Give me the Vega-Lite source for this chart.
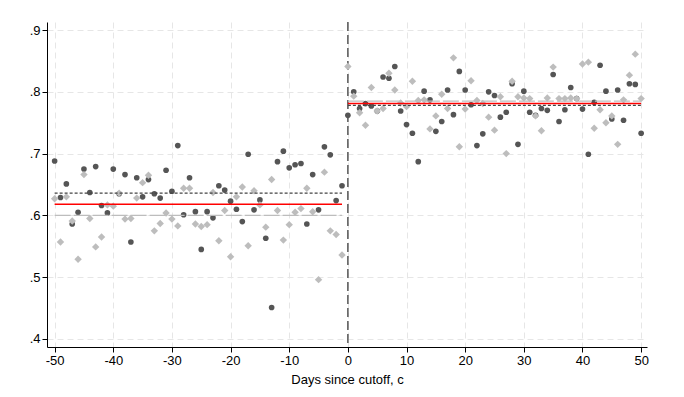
{
  "$schema": "https://vega.github.io/schema/vega-lite/v6.json",
  "autosize": {"type": "none"},
  "padding": {"left": 47, "top": 22, "right": 37, "bottom": 50},
  "width": 600,
  "height": 325,
  "background": "white",
  "config": {
    "view": {"stroke": null},
    "font": "Liberation Sans",
    "axis": {
      "labelFont": "Liberation Sans",
      "titleFont": "Liberation Sans",
      "labelFontSize": 13,
      "titleFontSize": 13,
      "labelColor": "#000000",
      "titleColor": "#000000",
      "domainColor": "#000000",
      "tickColor": "#000000",
      "tickSize": 5,
      "gridColor": "#e6e6e6",
      "gridDash": [6, 4],
      "gridWidth": 1,
      "titleFontWeight": "normal"
    }
  },
  "datasets": {
    "pts": [
      {"day": -50, "series": "A", "value": 0.688}, {"day": -49, "series": "A", "value": 0.629}, {"day": -48, "series": "A", "value": 0.651}, {"day": -47, "series": "A", "value": 0.586}, {"day": -46, "series": "A", "value": 0.605}, {"day": -45, "series": "A", "value": 0.675}, {"day": -44, "series": "A", "value": 0.637}, {"day": -43, "series": "A", "value": 0.679}, {"day": -42, "series": "A", "value": 0.616}, {"day": -41, "series": "A", "value": 0.604},
      {"day": -40, "series": "A", "value": 0.675}, {"day": -39, "series": "A", "value": 0.635}, {"day": -38, "series": "A", "value": 0.666}, {"day": -37, "series": "A", "value": 0.557}, {"day": -36, "series": "A", "value": 0.661}, {"day": -35, "series": "A", "value": 0.630}, {"day": -34, "series": "A", "value": 0.658}, {"day": -33, "series": "A", "value": 0.635}, {"day": -32, "series": "A", "value": 0.628}, {"day": -31, "series": "A", "value": 0.673},
      {"day": -30, "series": "A", "value": 0.639}, {"day": -29, "series": "A", "value": 0.713}, {"day": -28, "series": "A", "value": 0.601}, {"day": -27, "series": "A", "value": 0.661}, {"day": -26, "series": "A", "value": 0.606}, {"day": -25, "series": "A", "value": 0.545}, {"day": -24, "series": "A", "value": 0.606}, {"day": -23, "series": "A", "value": 0.596}, {"day": -22, "series": "A", "value": 0.648}, {"day": -21, "series": "A", "value": 0.641},
      {"day": -20, "series": "A", "value": 0.623}, {"day": -19, "series": "A", "value": 0.610}, {"day": -18, "series": "A", "value": 0.590}, {"day": -17, "series": "A", "value": 0.699}, {"day": -16, "series": "A", "value": 0.609}, {"day": -15, "series": "A", "value": 0.625}, {"day": -14, "series": "A", "value": 0.563}, {"day": -13, "series": "A", "value": 0.451}, {"day": -12, "series": "A", "value": 0.687}, {"day": -11, "series": "A", "value": 0.704},
      {"day": -10, "series": "A", "value": 0.677}, {"day": -9, "series": "A", "value": 0.682}, {"day": -8, "series": "A", "value": 0.684}, {"day": -7, "series": "A", "value": 0.586}, {"day": -6, "series": "A", "value": 0.666}, {"day": -5, "series": "A", "value": 0.609}, {"day": -4, "series": "A", "value": 0.711}, {"day": -3, "series": "A", "value": 0.698}, {"day": -2, "series": "A", "value": 0.624}, {"day": -1, "series": "A", "value": 0.648},
      {"day": 0, "series": "A", "value": 0.762}, {"day": 1, "series": "A", "value": 0.800}, {"day": 2, "series": "A", "value": 0.773}, {"day": 3, "series": "A", "value": 0.781}, {"day": 4, "series": "A", "value": 0.777}, {"day": 5, "series": "A", "value": 0.769}, {"day": 6, "series": "A", "value": 0.824}, {"day": 7, "series": "A", "value": 0.822}, {"day": 8, "series": "A", "value": 0.841}, {"day": 9, "series": "A", "value": 0.769},
      {"day": 10, "series": "A", "value": 0.747}, {"day": 11, "series": "A", "value": 0.733}, {"day": 12, "series": "A", "value": 0.687}, {"day": 13, "series": "A", "value": 0.801}, {"day": 14, "series": "A", "value": 0.787}, {"day": 15, "series": "A", "value": 0.736}, {"day": 16, "series": "A", "value": 0.752}, {"day": 17, "series": "A", "value": 0.803}, {"day": 18, "series": "A", "value": 0.763}, {"day": 19, "series": "A", "value": 0.833},
      {"day": 20, "series": "A", "value": 0.803}, {"day": 21, "series": "A", "value": 0.779}, {"day": 22, "series": "A", "value": 0.713}, {"day": 23, "series": "A", "value": 0.732}, {"day": 24, "series": "A", "value": 0.800}, {"day": 25, "series": "A", "value": 0.794}, {"day": 26, "series": "A", "value": 0.759}, {"day": 27, "series": "A", "value": 0.767}, {"day": 28, "series": "A", "value": 0.813}, {"day": 29, "series": "A", "value": 0.715},
      {"day": 30, "series": "A", "value": 0.801}, {"day": 31, "series": "A", "value": 0.767}, {"day": 32, "series": "A", "value": 0.762}, {"day": 33, "series": "A", "value": 0.773}, {"day": 34, "series": "A", "value": 0.770}, {"day": 35, "series": "A", "value": 0.828}, {"day": 36, "series": "A", "value": 0.752}, {"day": 37, "series": "A", "value": 0.771}, {"day": 38, "series": "A", "value": 0.807}, {"day": 39, "series": "A", "value": 0.789},
      {"day": 40, "series": "A", "value": 0.772}, {"day": 41, "series": "A", "value": 0.699}, {"day": 42, "series": "A", "value": 0.783}, {"day": 43, "series": "A", "value": 0.843}, {"day": 44, "series": "A", "value": 0.801}, {"day": 45, "series": "A", "value": 0.756}, {"day": 46, "series": "A", "value": 0.803}, {"day": 47, "series": "A", "value": 0.754}, {"day": 48, "series": "A", "value": 0.813}, {"day": 49, "series": "A", "value": 0.812}, {"day": 50, "series": "A", "value": 0.733},
      {"day": -50, "series": "B", "value": 0.627}, {"day": -49, "series": "B", "value": 0.557}, {"day": -48, "series": "B", "value": 0.630}, {"day": -47, "series": "B", "value": 0.591}, {"day": -46, "series": "B", "value": 0.529}, {"day": -45, "series": "B", "value": 0.666}, {"day": -44, "series": "B", "value": 0.595}, {"day": -43, "series": "B", "value": 0.549}, {"day": -42, "series": "B", "value": 0.565}, {"day": -41, "series": "B", "value": 0.617},
      {"day": -40, "series": "B", "value": 0.615}, {"day": -39, "series": "B", "value": 0.636}, {"day": -38, "series": "B", "value": 0.594}, {"day": -37, "series": "B", "value": 0.595}, {"day": -36, "series": "B", "value": 0.628}, {"day": -35, "series": "B", "value": 0.653}, {"day": -34, "series": "B", "value": 0.665}, {"day": -33, "series": "B", "value": 0.575}, {"day": -32, "series": "B", "value": 0.587}, {"day": -31, "series": "B", "value": 0.604},
      {"day": -30, "series": "B", "value": 0.594}, {"day": -29, "series": "B", "value": 0.583}, {"day": -28, "series": "B", "value": 0.644}, {"day": -27, "series": "B", "value": 0.644}, {"day": -26, "series": "B", "value": 0.586}, {"day": -25, "series": "B", "value": 0.582}, {"day": -24, "series": "B", "value": 0.585}, {"day": -23, "series": "B", "value": 0.637}, {"day": -22, "series": "B", "value": 0.559}, {"day": -21, "series": "B", "value": 0.608},
      {"day": -20, "series": "B", "value": 0.533}, {"day": -19, "series": "B", "value": 0.630}, {"day": -18, "series": "B", "value": 0.646}, {"day": -17, "series": "B", "value": 0.551}, {"day": -16, "series": "B", "value": 0.640}, {"day": -15, "series": "B", "value": 0.617}, {"day": -14, "series": "B", "value": 0.581}, {"day": -13, "series": "B", "value": 0.658}, {"day": -12, "series": "B", "value": 0.608}, {"day": -11, "series": "B", "value": 0.560},
      {"day": -10, "series": "B", "value": 0.585}, {"day": -9, "series": "B", "value": 0.605}, {"day": -8, "series": "B", "value": 0.611}, {"day": -7, "series": "B", "value": 0.644}, {"day": -6, "series": "B", "value": 0.606}, {"day": -5, "series": "B", "value": 0.496}, {"day": -4, "series": "B", "value": 0.670}, {"day": -3, "series": "B", "value": 0.575}, {"day": -2, "series": "B", "value": 0.569}, {"day": -1, "series": "B", "value": 0.536},
      {"day": 0, "series": "B", "value": 0.841}, {"day": 1, "series": "B", "value": 0.793}, {"day": 2, "series": "B", "value": 0.766}, {"day": 3, "series": "B", "value": 0.746}, {"day": 4, "series": "B", "value": 0.807}, {"day": 5, "series": "B", "value": 0.769}, {"day": 6, "series": "B", "value": 0.773}, {"day": 7, "series": "B", "value": 0.830}, {"day": 8, "series": "B", "value": 0.803}, {"day": 9, "series": "B", "value": 0.782},
      {"day": 10, "series": "B", "value": 0.776}, {"day": 11, "series": "B", "value": 0.817}, {"day": 12, "series": "B", "value": 0.786}, {"day": 13, "series": "B", "value": 0.787}, {"day": 14, "series": "B", "value": 0.740}, {"day": 15, "series": "B", "value": 0.761}, {"day": 16, "series": "B", "value": 0.796}, {"day": 17, "series": "B", "value": 0.773}, {"day": 18, "series": "B", "value": 0.855}, {"day": 19, "series": "B", "value": 0.711},
      {"day": 20, "series": "B", "value": 0.772}, {"day": 21, "series": "B", "value": 0.818}, {"day": 22, "series": "B", "value": 0.786}, {"day": 23, "series": "B", "value": 0.781}, {"day": 24, "series": "B", "value": 0.759}, {"day": 25, "series": "B", "value": 0.738}, {"day": 26, "series": "B", "value": 0.792}, {"day": 27, "series": "B", "value": 0.700}, {"day": 28, "series": "B", "value": 0.817}, {"day": 29, "series": "B", "value": 0.792},
      {"day": 30, "series": "B", "value": 0.790}, {"day": 31, "series": "B", "value": 0.789}, {"day": 32, "series": "B", "value": 0.761}, {"day": 33, "series": "B", "value": 0.737}, {"day": 34, "series": "B", "value": 0.790}, {"day": 35, "series": "B", "value": 0.840}, {"day": 36, "series": "B", "value": 0.789}, {"day": 37, "series": "B", "value": 0.789}, {"day": 38, "series": "B", "value": 0.790}, {"day": 39, "series": "B", "value": 0.789},
      {"day": 40, "series": "B", "value": 0.845}, {"day": 41, "series": "B", "value": 0.848}, {"day": 42, "series": "B", "value": 0.741}, {"day": 43, "series": "B", "value": 0.771}, {"day": 44, "series": "B", "value": 0.750}, {"day": 45, "series": "B", "value": 0.761}, {"day": 46, "series": "B", "value": 0.715}, {"day": 47, "series": "B", "value": 0.787}, {"day": 48, "series": "B", "value": 0.827}, {"day": 49, "series": "B", "value": 0.861}, {"day": 50, "series": "B", "value": 0.789}
    ],
    "fits": [
      {"kind": "light", "x1": -50, "x2": -1, "y": 0.600},
      {"kind": "light", "x1": 0, "x2": 50, "y": 0.785},
      {"kind": "red", "x1": -50, "x2": -1, "y": 0.618},
      {"kind": "red", "x1": 0, "x2": 50, "y": 0.781},
      {"kind": "dash", "x1": -50, "x2": -1, "y": 0.636},
      {"kind": "dash", "x1": 0, "x2": 50, "y": 0.778}
    ],
    "cutoff": [{"x": 0}]
  },
  "layer": [
    {
      "data": {"name": "cutoff"},
      "mark": {"type": "rule", "color": "#555555", "strokeWidth": 1.5, "strokeDash": [9, 4]},
      "encoding": {
        "x": {
          "field": "x", "type": "quantitative",
          "scale": {"domain": [-51.3, 51.0], "nice": false, "zero": false},
          "axis": {
            "values": [-50, -40, -30, -20, -10, 0, 10, 20, 30, 40, 50],
            "labelExpr": "'' + datum.value",
            "title": "Days since cutoff, c",
            "titlePadding": 6,
            "labelPadding": 2,
            "grid": true
          }
        }
      }
    },
    {
      "data": {"name": "pts"},
      "transform": [{"filter": "datum.series === 'A'"}],
      "mark": {"type": "point", "shape": "circle", "filled": true, "size": 32, "color": "#555555", "opacity": 1},
      "encoding": {
        "x": {"field": "day", "type": "quantitative"},
        "y": {
          "field": "value", "type": "quantitative",
          "scale": {"domain": [0.387, 0.913], "nice": false, "zero": false},
          "axis": {
            "values": [0.4, 0.5, 0.6, 0.7, 0.8, 0.9],
            "labelExpr": "replace(format(datum.value, '.1f'), '0.', '.')",
            "title": null,
            "labelPadding": 2,
            "grid": true
          }
        }
      }
    },
    {
      "data": {"name": "pts"},
      "transform": [{"filter": "datum.series === 'B'"}],
      "mark": {"type": "point", "shape": "diamond", "filled": true, "size": 55, "color": "#bdbdbd", "opacity": 1},
      "encoding": {
        "x": {"field": "day", "type": "quantitative"},
        "y": {"field": "value", "type": "quantitative"}
      }
    },
    {
      "data": {"name": "fits"},
      "transform": [{"filter": "datum.kind === 'light'"}],
      "mark": {"type": "rule", "color": "#bdbdbd", "strokeWidth": 1.3, "strokeDash": [16, 3]},
      "encoding": {
        "x": {"field": "x1", "type": "quantitative"},
        "x2": {"field": "x2"},
        "y": {"field": "y", "type": "quantitative"}
      }
    },
    {
      "data": {"name": "fits"},
      "transform": [{"filter": "datum.kind === 'red'"}],
      "mark": {"type": "rule", "color": "#ff0000", "strokeWidth": 1.4},
      "encoding": {
        "x": {"field": "x1", "type": "quantitative"},
        "x2": {"field": "x2"},
        "y": {"field": "y", "type": "quantitative"}
      }
    },
    {
      "data": {"name": "fits"},
      "transform": [{"filter": "datum.kind === 'dash'"}],
      "mark": {"type": "rule", "color": "#444444", "strokeWidth": 1.2, "strokeDash": [3, 2]},
      "encoding": {
        "x": {"field": "x1", "type": "quantitative"},
        "x2": {"field": "x2"},
        "y": {"field": "y", "type": "quantitative"}
      }
    }
  ]
}
